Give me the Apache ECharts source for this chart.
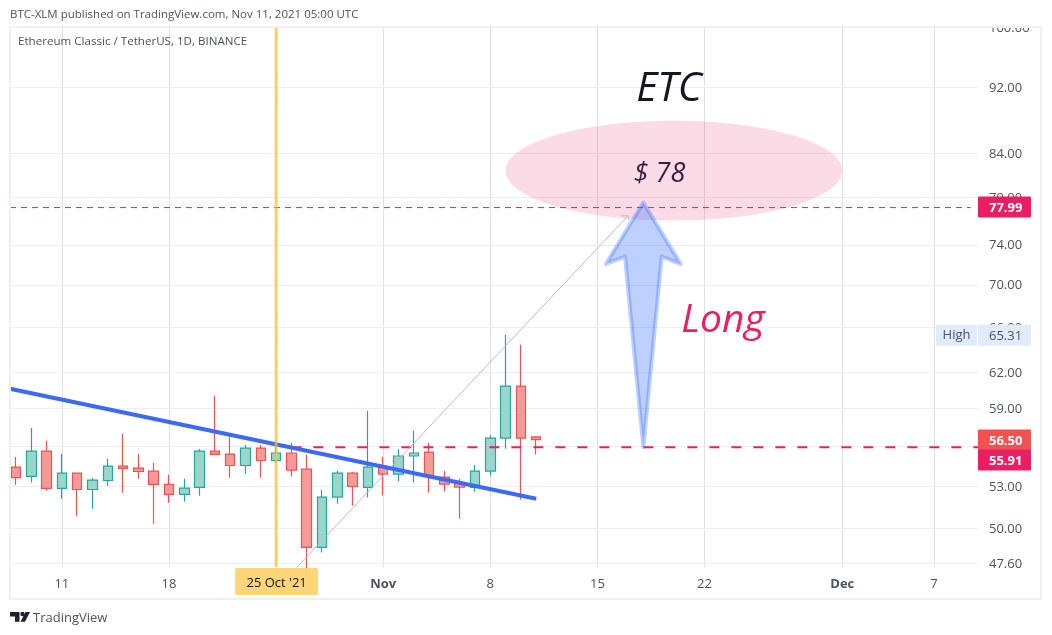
<!DOCTYPE html>
<html><head><meta charset="utf-8">
<style>html,body{margin:0;padding:0;background:#fff}#c{width:1052px;height:635px}</style>
<script src="https://cdn.jsdelivr.net/npm/echarts@6/dist/echarts.min.js"></script>
</head><body><div id="c"></div>
<script>
// Day index: 0 = 8 Oct 2021
const days   = [0,1,2,3,4,5,6,7,8,9,10,11,12,13,14,15,16,17,18,19,20,21,22,23,24,25,26,27,28,29,30,31,32,33,34];
const opens  = [54.39,53.69,55.61,52.81,53.94,52.73,53.39,54.47,54.32,54.09,53.10,52.37,52.88,55.61,55.38,54.51,55.84,54.89,55.46,54.24,48.67,52.18,53.94,52.88,54.44,53.87,55.23,55.53,53.64,53.20,52.88,54.09,56.62,60.84,56.72];
const closes = [53.61,55.61,52.81,53.94,52.73,53.42,54.47,54.29,54.06,53.10,52.37,52.83,55.61,55.35,54.51,55.84,54.89,55.46,54.17,48.67,52.18,53.94,52.95,54.39,53.87,55.23,55.46,53.69,53.13,52.91,54.09,56.62,60.84,56.62,56.50];
const lows   = [53.08,53.25,52.64,52.06,50.85,51.34,53.00,52.49,53.52,50.29,51.77,51.84,52.28,55.35,53.59,53.89,53.59,54.69,53.69,46.85,48.33,51.70,51.55,52.15,52.30,53.32,53.25,52.51,52.59,50.64,52.59,53.76,55.79,51.99,55.35];
const highs  = [55.15,57.41,56.41,55.40,53.94,53.57,55.02,56.95,55.40,54.69,53.81,53.52,55.76,60.03,57.01,56.07,56.07,56.35,56.23,55.32,52.71,54.11,54.04,58.80,55.17,55.76,57.19,56.23,54.11,53.50,54.54,56.85,65.31,64.42,56.70];

const xMin = -0.39, xMax = 62.87;
const xTicks  = [3,10,17,24,31,38,45,54,60];
const xLabels = ['11','18','25','Nov','8','15','22','Dec','7'];
const yMin = 47.37, yMax = 99.98;
const yTicks = [100,92,84,79,74,70,66,62,59,56,53,50,47.6];

const trendDays = [xMin,34],   trendPrices = [60.61,52.06];
const supportDays = [18,xMax], supportPrices = [55.91,55.91];
const targetDays = [xMin,62.4], targetPrices = [77.88,77.88];
const pathDays = [18,40], pathPrices = [46.97,77.0];
const ellipseDays = [32,54], ellipsePrices = [87.81,76.50];
const arrowDays   = [41,43.45,42.2,41,39.8,38.56];
const arrowPrices = [78.43,72.02,72.78,55.91,72.78,72.05];
const cursorDay = 17, cursorLabel = "25 Oct '21";
const tagPrices = [77.99,56.50,55.91,65.31];
const tagColors = ['#e91e63','#ef5350','#e91e63','#e1ecfb'];
const tagText   = ['#ffffff','#ffffff','#ffffff','#4c525e'];
const FONT = '"Open Sans","Noto Sans",sans-serif';
const TXT = '#4c525e';

const chart = echarts.init(document.getElementById('c'));
const solo = (fn, z, data) => ({type:'custom',coordinateSystem:'cartesian2d',silent:true,animation:false,z,
  clip:false,data:data||[[0,50]],renderItem:fn});
const line = (xs,ys,style,z) => ({type:'line',data:xs.map((x,i)=>[x,ys[i]]),showSymbol:false,symbol:'none',silent:true,animation:false,z,lineStyle:style,clip:true});

chart.setOption({
  animation:false,
  grid:{left:10,right:74,top:27,bottom:68},
  xAxis:{type:'value',min:xMin,max:xMax,
    axisLine:{show:false},
    axisTick:{show:false,customValues:xTicks},
    splitLine:{show:true,lineStyle:{color:'#e0e1e6',width:1}},
    axisLabel:{customValues:xTicks,margin:11,hideOverlap:false,color:TXT,fontSize:13,fontFamily:FONT,
      formatter:v=>{const s=xLabels[xTicks.indexOf(v)];return /[A-Za-z]/.test(s)?'{b|'+s+'}':s;},
      rich:{b:{fontWeight:'bold',color:TXT,fontSize:13,fontFamily:FONT}}}},
  yAxis:{type:'log',position:'right',min:yMin,max:yMax,show:false,splitLine:{show:false}},
  series:[
    solo((p,api)=>{
      const v=yTicks[p.dataIndex],a=api.coord([xMin,v]),b=api.coord([xMax,v]);
      return {type:'group',children:[
        {type:'line',shape:{x1:a[0],y1:Math.round(a[1])+.5,x2:b[0],y2:Math.round(b[1])+.5},style:{stroke:'#edeef1',lineWidth:1}},
        {type:'text',style:{text:v.toFixed(2),x:b[0]+11,y:b[1]+1,fill:TXT,fontSize:13,fontFamily:FONT,align:'left',verticalAlign:'middle'}}
      ]};
    },1,yTicks.map(v=>[0,v])),
    solo((p,api)=>{
      const a=api.coord([ellipseDays[0],ellipsePrices[0]]),b=api.coord([ellipseDays[1],ellipsePrices[1]]);
      return {type:'ellipse',shape:{cx:(a[0]+b[0])/2,cy:(a[1]+b[1])/2,rx:(b[0]-a[0])/2,ry:(b[1]-a[1])/2},style:{fill:'rgba(233,30,99,0.16)'}};
    },2),
    {type:'candlestick',z:3,silent:true,animation:false,barWidth:10,clip:true,
      data:days.map((d,i)=>[d,opens[i],closes[i],lows[i],highs[i]]),
      itemStyle:{color:'#9bd6ce',color0:'#f69a99',borderColor:'#26a69a',borderColor0:'#ef5350',borderWidth:1.2}},
    line(supportDays,supportPrices,{color:'#e91e63',width:2,type:[10,12]},4),
    line(targetDays,targetPrices,{color:'#e91e63',width:1,type:[6,5]},4),
    line(trendDays,trendPrices,{color:'#3d6af5',width:4,cap:'butt'},5),
    solo((p,api)=>{
      const a=api.coord([pathDays[0],pathPrices[0]]),b=api.coord([pathDays[1],pathPrices[1]]);
      const g=api.coord([xMin,yMin]);
      const y0=Math.min(a[1],g[1]),x0=a[0]+(b[0]-a[0])*(a[1]-y0)/(a[1]-b[1]);
      return {type:'group',children:[
        {type:'line',shape:{x1:x0,y1:y0,x2:b[0],y2:b[1]},style:{stroke:'#bdbdbd',lineWidth:1}},
        {type:'polyline',shape:{points:[[b[0]-7,b[1]],[b[0],b[1]],[b[0]+1,b[1]+5]]},style:{stroke:'#bdbdbd',lineWidth:1,fill:null}}
      ]};
    },5),
    solo((p,api)=>({type:'polygon',shape:{points:arrowDays.map((d,i)=>api.coord([d,arrowPrices[i]]))},
      style:{fill:'rgba(41,98,255,0.3)',stroke:'rgba(41,98,255,0.3)',lineWidth:4,lineJoin:'round'}}),6),
    solo((p,api)=>{
      const a=api.coord([cursorDay,yMax]),b=api.coord([cursorDay,yMin]);
      return {type:'group',children:[
        {type:'rect',shape:{x:a[0]-1.5,y:a[1],width:3,height:b[1]-a[1]},style:{fill:'rgba(251,192,45,0.7)'}},
        {type:'rect',shape:{x:a[0]-41,y:b[1]+1,width:83,height:27,r:2},style:{fill:'rgba(252,211,110,0.93)'}},
        {type:'text',style:{text:cursorLabel,x:a[0]+.5,y:b[1]+16.5,fill:'#131722',fontSize:13,fontFamily:FONT,align:'center',verticalAlign:'middle'}}
      ]};
    },7),
    solo((p,api)=>{
      const i=p.dataIndex,a=api.coord([xMax,tagPrices[i]]);
      let cy=a[1]+.5;
      if(i===2) cy=api.coord([xMax,tagPrices[1]])[1]+20.5;
      const kids=[
        {type:'rect',shape:{x:a[0],y:cy-10.5,width:53,height:21,r:1},style:{fill:tagColors[i]}},
        {type:'text',style:{text:tagPrices[i].toFixed(2),x:a[0]+11,y:cy+1,fill:tagText[i],fontSize:13,fontWeight:i===3?'normal':'bold',fontFamily:FONT,align:'left',verticalAlign:'middle'}}
      ];
      if(i===3){
        kids.push({type:'rect',shape:{x:a[0]-42,y:cy-10.5,width:41,height:21,r:1},style:{fill:tagColors[i]}});
        kids.push({type:'text',style:{text:'High',x:a[0]-21.5,y:cy,fill:TXT,fontSize:13,fontFamily:FONT,align:'center',verticalAlign:'middle'}});
      }
      return {type:'group',children:kids};
    },20,tagPrices.map(v=>[0,v]))
  ],
  graphic:[
    {type:'rect',z:50,silent:true,shape:{x:0,y:0,width:1052,height:26},style:{fill:'#fff'}},
    {type:'rect',z:51,silent:true,shape:{x:10,y:27,width:1031,height:572},style:{fill:null,stroke:'#eff0f4',lineWidth:2}},
    {type:'text',z:52,silent:true,style:{text:'BTC-XLM published on TradingView.com, Nov 11, 2021 05:00 UTC',x:10,y:15,fill:TXT,fontSize:11.5,fontFamily:FONT,align:'left',verticalAlign:'middle'}},
    {type:'text',z:52,silent:true,style:{text:'Ethereum Classic / TetherUS, 1D, BINANCE',x:18,y:42,fill:TXT,fontSize:11.6,fontFamily:FONT,align:'left',verticalAlign:'middle'}},
    {type:'text',z:52,silent:true,style:{text:'ETC',x:669,y:89,fill:'#131722',fontSize:41,fontStyle:'italic',fontFamily:FONT,align:'center',verticalAlign:'middle'}},
    {type:'text',z:52,silent:true,style:{text:'$ 78',x:659.5,y:174,fill:'#3d1c3e',fontSize:27,fontStyle:'italic',fontFamily:FONT,align:'center',verticalAlign:'middle'}},
    {type:'text',z:52,silent:true,style:{text:'Long',x:723,y:321,fill:'#e91e63',fontSize:39,fontStyle:'italic',fontFamily:FONT,align:'center',verticalAlign:'middle'}},
    {type:'polygon',z:52,silent:true,shape:{points:[[10,612],[19.5,612],[19.5,621.7],[15,621.7],[15,616.5],[10,616.5]]},style:{fill:'#1e222d'}},
    {type:'circle',z:52,silent:true,shape:{cx:22.5,cy:614,r:2.2},style:{fill:'#1e222d'}},
    {type:'polygon',z:52,silent:true,shape:{points:[[25.5,612],[30,612],[25,621.7],[20.5,621.7]]},style:{fill:'#1e222d'}},
    {type:'text',z:52,silent:true,style:{text:'TradingView',x:33,y:618,fill:TXT,fontSize:13,fontFamily:FONT,align:'left',verticalAlign:'middle'}}
  ]
});
</script></body></html>
